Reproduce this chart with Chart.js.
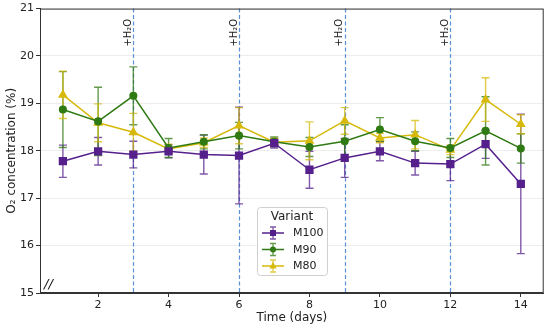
<!DOCTYPE html>
<html>
<head>
<meta charset="utf-8">
<script src="https://cdn.jsdelivr.net/npm/chart.js@4/dist/chart.umd.min.js"></script>
<style>
  html, body { margin: 0; padding: 0; background: #fff; }
  #wrap { width: 550px; height: 329px; }
</style>
</head>
<body>
<div id="wrap"><canvas id="o2Chart" width="550" height="329"></canvas></div>
<script>
// Days and measured O2 values (means and error half-widths)
const days = [1, 2, 3, 4, 5, 6, 7, 8, 9, 10, 11, 12, 13, 14];
const m100 = [17.78, 17.99, 17.92, 17.99, 17.92, 17.90, 18.16, 17.60, 17.85, 17.99, 17.74, 17.72, 18.14, 17.30];
const m100Err = [0.34, 0.29, 0.28, 0.14, 0.41, 1.02, 0.10, 0.39, 0.41, 0.20, 0.25, 0.35, 0.30, 1.47];
const m90 = [18.87, 18.62, 19.16, 18.06, 18.19, 18.32, 18.19, 18.08, 18.20, 18.45, 18.20, 18.06, 18.42, 18.05];
const m90Err = [0.80, 0.72, 0.61, 0.20, 0.15, 0.28, 0.10, 0.20, 0.35, 0.25, 0.20, 0.20, 0.72, 0.31];
const m80 = [19.18, 18.59, 18.39, 18.04, 18.17, 18.53, 18.18, 18.21, 18.63, 18.27, 18.34, 18.02, 19.08, 18.56];
const m80Err = [0.50, 0.40, 0.40, 0.10, 0.10, 0.38, 0.08, 0.40, 0.28, 0.10, 0.30, 0.10, 0.46, 0.20];
const waterDays = [3, 6, 9, 12];
const xTicks = [2, 4, 6, 8, 10, 12, 14];

const colors = {
    M100: "#56208c",
    M90: "#2f7a12",
    M80: "#d6b90a"
};
const FONT = "'DejaVu Sans', sans-serif";

function toPoints(vals) {
    return days.map((d, i) => ({ x: d, y: vals[i] }));
}

// error bars drawn through the chart scales
const errorBars = {
    id: "errorBars",
    beforeDatasetsDraw(chart) {
        const { ctx, scales: { x, y }, chartArea } = chart;
        // water addition markers
        ctx.save();
        ctx.strokeStyle = "#5b8fd6";
        ctx.lineWidth = 1.2;
        ctx.setLineDash([4, 2.5]);
        waterDays.forEach(d => {
            const px = Math.round(x.getPixelForValue(d)) + 0.5;
            ctx.beginPath();
            ctx.moveTo(px, chartArea.top);
            ctx.lineTo(px, chartArea.bottom);
            ctx.stroke();
        });
        ctx.setLineDash([]);
        ctx.fillStyle = "#222";
        ctx.font = "10px " + FONT;
        ctx.textAlign = "left";
        ctx.textBaseline = "bottom";
        waterDays.forEach(d => {
            const px = x.getPixelForValue(d);
            ctx.save();
            ctx.translate(px, chartArea.top + 38);
            ctx.rotate(-Math.PI / 2);
            ctx.fillText("+H\u2082O", 0, 0);
            ctx.restore();
        });
        ctx.restore();

        const errs = [m100Err, m90Err, m80Err];
        chart.data.datasets.forEach((ds, i) => {
            ctx.save();
            ctx.strokeStyle = ds.borderColor;
            ctx.globalAlpha = 0.75;
            ctx.lineWidth = 1.4;
            ds.data.forEach((p, j) => {
                const px = x.getPixelForValue(p.x);
                const top = y.getPixelForValue(p.y + errs[i][j]);
                const bot = y.getPixelForValue(p.y - errs[i][j]);
                ctx.beginPath();
                ctx.moveTo(px, top); ctx.lineTo(px, bot);
                ctx.moveTo(px - 4, top); ctx.lineTo(px + 4, top);
                ctx.moveTo(px - 4, bot); ctx.lineTo(px + 4, bot);
                ctx.stroke();
            });
            ctx.restore();
        });
    },
    afterDraw(chart) {
        const { ctx, chartArea } = chart;
        // frame
        ctx.save();
        ctx.strokeStyle = "#333";
        ctx.lineWidth = 1;
        ctx.strokeRect(chartArea.left + 0.5, chartArea.top + 0.5,
            chartArea.right - chartArea.left - 1, chartArea.bottom - chartArea.top - 1);

        // axis break mark
        ctx.fillStyle = "#111";
        ctx.font = "italic 13px " + FONT;
        ctx.textAlign = "left";
        ctx.textBaseline = "alphabetic";
        ctx.fillText("//", chartArea.left + 4, chartArea.bottom - 5);

        // legend
        const lx = 257, ly = 207, lw = 70, lh = 68;
        ctx.fillStyle = "rgba(255,255,255,0.85)";
        ctx.strokeStyle = "#d0d0d0";
        ctx.beginPath();
        ctx.roundRect(lx + 0.5, ly + 0.5, lw, lh, 3);
        ctx.fill();
        ctx.stroke();
        ctx.fillStyle = "#222";
        ctx.font = "12px " + FONT;
        ctx.textAlign = "center";
        ctx.textBaseline = "middle";
        ctx.fillText("Variant", lx + lw / 2, ly + 10);
        const styles = ["rect", "circle", "triangle"];
        chart.data.datasets.forEach((ds, i) => {
            const cy = ly + 26 + i * 16.5;
            const cx = lx + 16;
            ctx.strokeStyle = ds.borderColor;
            ctx.lineWidth = 1.5;
            ctx.beginPath();
            ctx.moveTo(cx - 11, cy); ctx.lineTo(cx + 11, cy);
            ctx.stroke();
            ctx.globalAlpha = 0.75;
            ctx.lineWidth = 1.3;
            ctx.beginPath();
            ctx.moveTo(cx, cy - 6); ctx.lineTo(cx, cy + 6);
            ctx.moveTo(cx - 3, cy - 6); ctx.lineTo(cx + 3, cy - 6);
            ctx.moveTo(cx - 3, cy + 6); ctx.lineTo(cx + 3, cy + 6);
            ctx.stroke();
            ctx.globalAlpha = 1;
            ctx.fillStyle = ds.borderColor;
            ctx.beginPath();
            if (styles[i] === "rect") {
                ctx.rect(cx - 3, cy - 3, 6, 6);
            } else if (styles[i] === "circle") {
                ctx.arc(cx, cy, 3, 0, Math.PI * 2);
            } else {
                ctx.moveTo(cx, cy - 4); ctx.lineTo(cx + 3.6, cy + 2.5); ctx.lineTo(cx - 3.6, cy + 2.5);
                ctx.closePath();
            }
            ctx.fill();
            ctx.fillStyle = "#222";
            ctx.font = "11px " + FONT;
            ctx.textAlign = "left";
            ctx.fillText(ds.label, cx + 20, cy + 0.5);
        });
        ctx.restore();
    }
};

const ctx = document.getElementById("o2Chart").getContext("2d");
const o2Chart = new Chart(ctx, {
    type: "line",
    data: {
        datasets: [
            { label: "M100", data: toPoints(m100), borderColor: colors.M100, backgroundColor: colors.M100,
              pointStyle: "rect", pointRadius: 4.8, borderWidth: 1.5 },
            { label: "M90", data: toPoints(m90), borderColor: colors.M90, backgroundColor: colors.M90,
              pointStyle: "circle", pointRadius: 3.3, borderWidth: 1.5 },
            { label: "M80", data: toPoints(m80), borderColor: colors.M80, backgroundColor: colors.M80,
              pointStyle: "triangle", pointRadius: 4.2, borderWidth: 1.5 }
        ]
    },
    options: {
        responsive: false,
        animation: false,
        layout: { padding: { left: 0, right: 4, top: 7, bottom: 0 } },
        plugins: {
            legend: { display: false },
            tooltip: { enabled: false }
        },
        elements: { point: { borderWidth: 0 }, line: { tension: 0 } },
        scales: {
            x: {
                type: "linear",
                min: 0.35,
                max: 14.65,
                afterBuildTicks: scale => { scale.ticks = xTicks.map(v => ({ value: v })); },
                afterFit: scale => { scale.height = 36; },
                grid: { drawOnChartArea: false, tickLength: 4, tickColor: "#333" },
                border: { color: "#333" },
                ticks: { color: "#222", font: { family: FONT, size: 11 }, padding: 2, maxRotation: 0 },
                title: { display: true, text: "Time (days)", color: "#222",
                         font: { family: FONT, size: 12 }, padding: { top: 0, bottom: 4 } }
            },
            y: {
                min: 15,
                max: 21,
                afterFit: scale => { scale.width = 40; },
                grid: { color: "rgba(0,0,0,0.07)", tickLength: 4, tickColor: "#333" },
                border: { color: "#333" },
                ticks: { stepSize: 1, color: "#222", font: { family: FONT, size: 11 }, padding: 2 },
                title: { display: true, text: "O\u2082 concentration (%)", color: "#222",
                         font: { family: FONT, size: 12 }, padding: { top: 5, bottom: 0 } }
            }
        }
    },
    plugins: [errorBars]
});
</script>
</body>
</html>
